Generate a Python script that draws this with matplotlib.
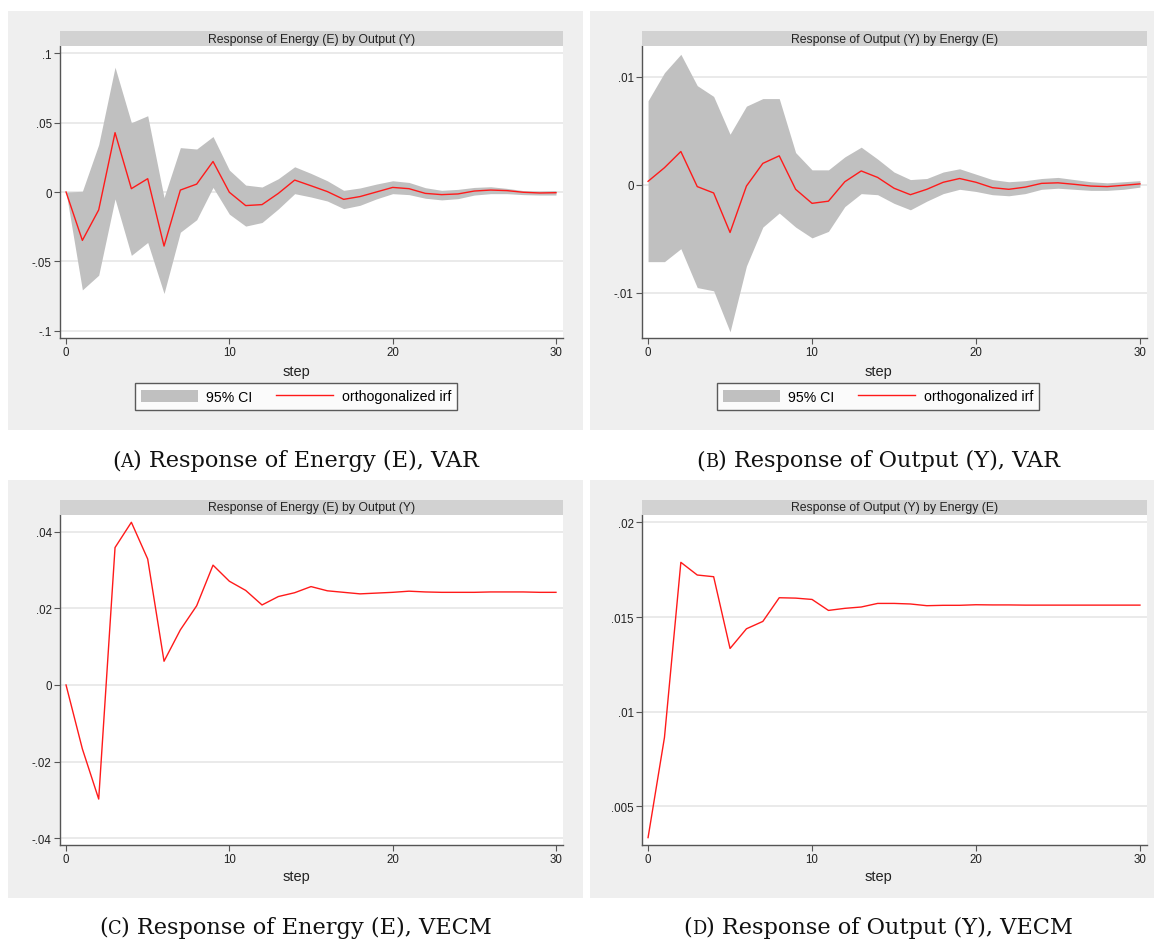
import numpy as np
import matplotlib
matplotlib.use("Agg")
import matplotlib.pyplot as plt
from matplotlib.patches import Rectangle, Patch
from matplotlib.lines import Line2D

# impulse response horizon
steps = np.arange(31)

# VAR: response of energy to output shock, with 95% band
irf_var_e = [0, -0.0349, -0.0129, 0.0428, 0.0024, 0.0096, -0.039, 0.0014, 0.0057, 0.022,
             -0.0002, -0.0098, -0.0091, -0.001, 0.0086, 0.0045, 0.0003, -0.0053, -0.0033, 0.0,
             0.0033, 0.0024, -0.001, -0.0019, -0.0014, 0.0007, 0.0014, 0.001, -0.0002, -0.0007, -0.0005]
lo_var_e = [0, -0.0706, -0.060, -0.005, -0.0457, -0.0364, -0.0732, -0.029, -0.020, 0.0033,
            -0.016, -0.0246, -0.022, -0.0122, -0.0012, -0.0036, -0.0065, -0.012, -0.0096, -0.005,
            -0.0012, -0.0019, -0.0045, -0.0057, -0.0048, -0.0022, -0.0012, -0.0012, -0.0019, -0.0022, -0.0022]
hi_var_e = [0, 0.0005, 0.0342, 0.090, 0.050, 0.055, -0.004, 0.032, 0.031, 0.040,
            0.0158, 0.005, 0.0036, 0.0096, 0.0182, 0.0134, 0.0081, 0.0012, 0.0029, 0.0057,
            0.0081, 0.0069, 0.0031, 0.0012, 0.0019, 0.0033, 0.0038, 0.0026, 0.001, 0.0007, 0.001]

# VAR: response of output to energy shock, with 95% band
irf_var_y = [0.00034, 0.0016, 0.0031, -0.00015, -0.00074, -0.0044, -0.0001, 0.002, 0.0027, -0.0004,
             -0.0017, -0.0015, 0.0003, 0.0013, 0.0007, -0.0003, -0.0009, -0.0004, 0.00025, 0.0006,
             0.00025, -0.00025, -0.0004, -0.0002, 0.00015, 0.0002, 0.00006, -0.0001, -0.00015, -0.00003, 0.0001]
lo_var_y = [-0.0071, -0.0071, -0.0059, -0.0095, -0.0098, -0.0136, -0.0075, -0.0039, -0.0026, -0.0039,
            -0.0049, -0.0043, -0.002, -0.0008, -0.0009, -0.0017, -0.0023, -0.0015, -0.0008, -0.0004,
            -0.0006, -0.0009, -0.001, -0.0008, -0.0004, -0.0003, -0.0004, -0.0005, -0.0005, -0.0004, -0.0002]
hi_var_y = [0.0078, 0.0104, 0.0121, 0.0092, 0.0082, 0.0047, 0.0073, 0.008, 0.008, 0.003,
            0.0014, 0.0014, 0.0026, 0.0035, 0.0024, 0.0012, 0.0005, 0.0006, 0.0012, 0.0015,
            0.001, 0.0005, 0.0003, 0.0004, 0.0006, 0.0007, 0.0005, 0.0003, 0.0002, 0.0003, 0.0004]

# VECM responses (no bands)
irf_vecm_e = [0, -0.0167, -0.0298, 0.0359, 0.0425, 0.0329, 0.0062, 0.0144, 0.0207, 0.0313,
              0.0271, 0.0247, 0.0209, 0.0231, 0.0241, 0.0257, 0.0246, 0.0242, 0.0238, 0.024,
              0.0242, 0.0245, 0.0243, 0.0242, 0.0242, 0.0242, 0.0243, 0.0243, 0.0243, 0.0242, 0.0242]
irf_vecm_y = [0.00335, 0.00864, 0.01789, 0.01722, 0.01713, 0.01334, 0.01438, 0.01477, 0.01602, 0.016,
              0.01593, 0.01535, 0.01546, 0.01553, 0.01572, 0.01572, 0.01569, 0.0156, 0.01562, 0.01562,
              0.01565, 0.01564, 0.01564, 0.01563, 0.01563, 0.01563, 0.01563, 0.01563, 0.01563, 0.01563, 0.01563]

title_e = "Response of Energy (E) by Output (Y)"
title_y = "Response of Output (Y) by Energy (E)"

W, H = 1154, 945
PANEL_BG = "#efefef"
BAND = "#d2d2d2"
CI_COL = "#c0c0c0"
RED = "#ff1a1a"
AXCOL = "#555555"

plt.rcParams["font.family"] = ["Liberation Sans", "DejaVu Sans"]
fig = plt.figure(figsize=(W / 100, H / 100), dpi=100)
fig.patch.set_facecolor("white")


def fx(px):
    return px / W


def fy(py):
    return 1 - py / H


def panel(px0, py0, px1, py1, ax_box, title, ylim, yticks, ylabels,
          irf, lo=None, hi=None, legend=False, step_y=None, mid=None):
    # grey graph region
    fig.add_artist(Rectangle((fx(px0), fy(py1)), fx(px1 - px0), (py1 - py0) / H,
                             transform=fig.transFigure, facecolor=PANEL_BG,
                             edgecolor="none", zorder=0))
    x0, y0, x1, y1 = ax_box
    ax = fig.add_axes([fx(x0), fy(y1), fx(x1 - x0), (y1 - y0) / H])
    ax.set_facecolor("white")
    # title strip on top of the plot region
    fig.add_artist(Rectangle((fx(x0), fy(y0)), fx(x1 - x0), 15 / H,
                             transform=fig.transFigure, facecolor=BAND,
                             edgecolor="none", zorder=1))
    fig.text(fx((x0 + x1) / 2), fy(y0 - 7.5), title, ha="center", va="center",
             fontsize=8.8, color="#222222")

    if lo is not None:
        ax.fill_between(steps, lo, hi, color=CI_COL, linewidth=0, zorder=2)
    ax.plot(steps, irf, color=RED, lw=1.0, zorder=3)

    ax.set_xlim(-0.37, 30.43)
    ax.set_ylim(*ylim)
    ax.set_xticks([0, 10, 20, 30])
    ax.set_yticks(yticks)
    ax.set_yticklabels(ylabels)
    ax.grid(axis="y", color="#e8e8e8", lw=1.3, zorder=1)
    ax.set_axisbelow(True)
    for s in ("top", "right"):
        ax.spines[s].set_visible(False)
    for s in ("left", "bottom"):
        ax.spines[s].set_color(AXCOL)
        ax.spines[s].set_linewidth(1.0)
    ax.tick_params(axis="both", direction="out", length=4, width=0.8,
                   color=AXCOL, labelsize=8.3, labelcolor="#222222", pad=2)
    fig.text(fx(mid), fy(step_y), "step", ha="center", va="center",
             fontsize=10.5, color="#222222")

    if legend:
        handles = [Patch(facecolor=CI_COL, edgecolor="none"),
                   Line2D([], [], color=RED, lw=1.0)]
        leg = fig.legend(handles, ["95% CI", "orthogonalized irf"], ncol=2,
                         loc="center", bbox_to_anchor=(fx(mid), fy(397.5)),
                         fontsize=10.2, frameon=True, fancybox=False,
                         handlelength=4.0, handleheight=0.95, handletextpad=0.6,
                         columnspacing=1.7, borderpad=0.45)
        leg.get_frame().set_edgecolor("#333333")
        leg.get_frame().set_linewidth(1.0)
    return ax


def caption(xc, y_base, letter, rest):
    # "(A) ..." with the letter set in small capitals
    r = fig.canvas.get_renderer()
    parts = [("(", 16.2), (letter, 12.8), (") " + rest, 16.2)]
    texts = [fig.text(0, fy(y_base), s, fontsize=fs, family="DejaVu Serif",
                      va="baseline", ha="left", color="#111111") for s, fs in parts]
    widths = [t.get_window_extent(r).width for t in texts]
    x = xc - sum(widths) / 2
    for t, w in zip(texts, widths):
        t.set_x(fx(x))
        x += w


panel(8, 12, 583, 431, (60, 47, 563, 339), title_e, (-0.1053, 0.1053),
      [-0.1, -0.05, 0, 0.05, 0.1], ["-.1", "-.05", "0", ".05", ".1"],
      irf_var_e, lo_var_e, hi_var_e, legend=True, step_y=372, mid=296)
panel(590, 12, 1154, 431, (642, 47, 1147, 339), title_y, (-0.01417, 0.01287),
      [-0.01, 0, 0.01], ["-.01", "0", ".01"],
      irf_var_y, lo_var_y, hi_var_y, legend=True, step_y=372, mid=878)
panel(8, 481, 583, 899, (60, 516, 563, 846), title_e, (-0.0418, 0.0444),
      [-0.04, -0.02, 0, 0.02, 0.04], ["-.04", "-.02", "0", ".02", ".04"],
      irf_vecm_e, step_y=877, mid=296)
panel(590, 481, 1154, 899, (642, 516, 1147, 846), title_y, (0.00296, 0.02039),
      [0.005, 0.01, 0.015, 0.02], [".005", ".01", ".015", ".02"],
      irf_vecm_y, step_y=877, mid=878)

caption(295.5, 467.5, "A", "Response of Energy (E), VAR")
caption(878, 467.5, "B", "Response of Output (Y), VAR")
caption(295.5, 934, "C", "Response of Energy (E), VECM")
caption(878, 934, "D", "Response of Output (Y), VECM")

fig.savefig("out.png", dpi=100, facecolor="white")
